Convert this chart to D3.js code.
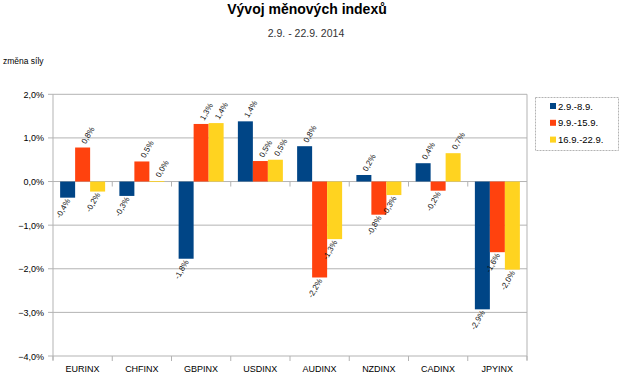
<!DOCTYPE html>
<html><head><meta charset="utf-8">
<script src="https://cdn.jsdelivr.net/npm/d3@7/dist/d3.min.js"></script>
<style>body{margin:0;background:#fff}svg{display:block;font-family:"Liberation Sans",Arial,sans-serif}</style>
</head><body><svg id="c" width="620" height="376"></svg>
<script>
const categories = ["EURINX","CHFINX","GBPINX","USDINX","AUDINX","NZDINX","CADINX","JPYINX"];
const seriesNames = ["2.9.-8.9.","9.9.-15.9.","16.9.-22.9."];
const s1 = [-0.37,-0.33,-1.77,1.38,0.81,0.15,0.42,-2.93];
const s2 = [0.78,0.46,1.32,0.47,-2.20,-0.76,-0.21,-1.62];
const s3 = [-0.23,0.01,1.34,0.50,-1.32,-0.31,0.65,-2.02];
const labels1 = ["-0,4%","-0,3%","-1,8%","1,4%","0,8%","0,2%","0,4%","-2,9%"];
const labels2 = ["0,8%","0,5%","1,3%","0,5%","-2,2%","-0,8%","-0,2%","-1,6%"];
const labels3 = ["-0,2%","0,0%","1,4%","0,5%","-1,3%","-0,3%","0,7%","-2,0%"];
const yTicks = [2,1,0,-1,-2,-3,-4];
const colors = ["#004586","#ff420e","#ffd320"];

const series = [s1,s2,s3];
const labs = [labels1,labels2,labels3];
const svg = d3.select("#c");
const L=53,R=527,T=94.3,B=356;
const x = d3.scaleBand().domain(categories).range([L,R]).paddingInner(0).paddingOuter(0);
const xs = d3.scaleBand().domain(d3.range(3)).range([0,45]);
const off = (x.bandwidth()-45)/2;
const y = d3.scaleLinear().domain([-4,2]).range([B,T]);
const fmt = v => d3.format(".1f")(v).replace(".",",")+"%";

// title
svg.append("text").attr("x",307).attr("y",13.5).attr("text-anchor","middle")
  .attr("font-size",14).attr("font-weight","bold").text("Vývoj měnových indexů");
svg.append("text").attr("x",306).attr("y",37).attr("text-anchor","middle")
  .attr("font-size",10.5).attr("fill","#333").text("2.9. - 22.9. 2014");
svg.append("text").attr("x",3).attr("y",64).attr("font-size",8.5).text("změna síly");

// gridlines
svg.append("g").selectAll("line").data(yTicks).join("line")
  .attr("x1",L-5).attr("x2",R).attr("y1",d=>y(d)).attr("y2",d=>y(d))
  .attr("stroke","#b3b3b3").attr("stroke-width",1);
svg.append("g").selectAll("text").data(yTicks).join("text")
  .attr("x",44).attr("y",d=>y(d)+3.5).attr("text-anchor","end").attr("font-size",9)
  .text(d=>fmt(d));
// axes
svg.append("line").attr("x1",L).attr("x2",L).attr("y1",T).attr("y2",B+4).attr("stroke","#b3b3b3");
svg.append("line").attr("x1",R).attr("x2",R).attr("y1",T).attr("y2",B+4).attr("stroke","#b3b3b3");
const bounds = d3.range(categories.length+1).map(i=>L+i*x.bandwidth());
svg.append("g").selectAll("line").data(bounds.slice(1,-1)).join("line")
  .attr("x1",d=>d).attr("x2",d=>d).attr("y1",y(0)).attr("y2",y(0)+5).attr("stroke","#b3b3b3");
svg.append("g").selectAll("line").data(bounds).join("line")
  .attr("x1",d=>d).attr("x2",d=>d).attr("y1",B).attr("y2",B+5).attr("stroke","#b3b3b3");
svg.append("g").selectAll("text").data(categories).join("text")
  .attr("x",d=>x(d)+x.bandwidth()/2).attr("y",372).attr("text-anchor","middle").attr("font-size",9).text(d=>d);

// bars
series.forEach((s,si)=>{
  const g = svg.append("g");
  g.selectAll("rect").data(s).join("rect")
    .attr("x",(d,i)=>x(categories[i])+off+xs(si))
    .attr("width",xs.bandwidth())
    .attr("y",d=>y(Math.max(0,d)))
    .attr("height",d=>Math.max(0.8,Math.abs(y(d)-y(0))))
    .attr("fill",colors[si]);
  g.selectAll("text").data(s).join("text")
    .attr("transform",(d,i)=>{
      const cx = x(categories[i])+off+xs(si)+xs.bandwidth()/2;
      const cy = d>=0 ? y(d)-3 : y(d)+3;
      return `translate(${cx+3},${cy}) rotate(-60)`;
    })
    .attr("text-anchor",d=>d>=0?"start":"end")
    .attr("font-size",8).attr("fill","#111")
    .text((d,i)=>labs[si][i]);
});

// legend
svg.append("rect").attr("x",535.5).attr("y",97.5).attr("width",83).attr("height",53)
  .attr("fill","none").attr("stroke","#b3b3b3").attr("stroke-dasharray","2,1");
seriesNames.forEach((n,i)=>{
  const yy = 106+i*16.8;
  svg.append("rect").attr("x",550).attr("y",yy-3).attr("width",6).attr("height",6).attr("fill",colors[i]);
  svg.append("text").attr("x",558).attr("y",yy+3.5).attr("font-size",9.5).text(n);
});
</script></body></html>
